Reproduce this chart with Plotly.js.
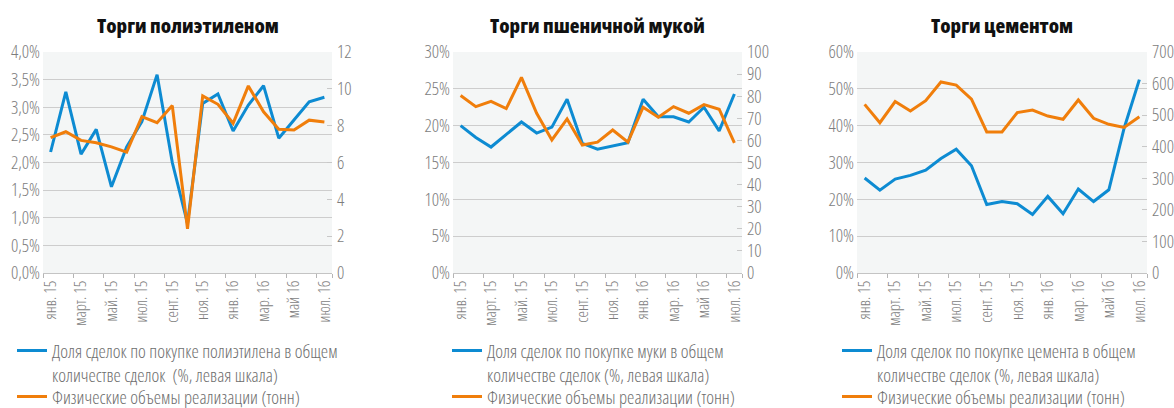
<!DOCTYPE html>
<html>
<head>
<meta charset="utf-8">
<script src="https://cdn.plot.ly/plotly-3.0.1.min.js"></script>
<style>
html,body{margin:0;padding:0;background:#fff;}
#chart{width:1174px;height:408px;}
text{font-stretch:75% !important;}
</style>
</head>
<body>
<div id="chart"></div>
<script>
const months = ['янв. 15','фев. 15','март. 15','апр. 15','май. 15','июн. 15','июл. 15','авг. 15','сент. 15','окт. 15','ноя. 15','дек. 15','янв. 16','фев. 16','мар. 16','апр. 16','май 16','июн. 16','июл. 16'];

const titles = ['Торги полиэтиленом', 'Торги пшеничной мукой', 'Торги цементом'];
const shareNames = [
  'Доля сделок по покупке полиэтилена в общем<br>количестве сделок  (%, левая шкала)',
  'Доля сделок по покупке муки в общем<br>количестве сделок (%, левая шкала)',
  'Доля сделок по покупке цемента в общем<br>количестве сделок (%, левая шкала)'
];
const volumeName = 'Физические объемы реализации (тонн)';

// Polyethylene
const peShare  = [2.19, 3.28, 2.15, 2.60, 1.56, 2.28, 2.74, 3.59, 2.00, 0.90, 3.07, 3.24, 2.57, 3.04, 3.39, 2.44, 2.77, 3.10, 3.18];
const peVolume = [7.35, 7.67, 7.20, 7.07, 6.85, 6.56, 8.49, 8.16, 9.09, 2.40, 9.62, 9.16, 8.13, 10.16, 8.75, 7.80, 7.76, 8.30, 8.20];
// Wheat flour
const flShare  = [20.0, 18.4, 17.1, 18.8, 20.5, 19.0, 19.8, 23.6, 17.6, 16.8, 17.3, 17.7, 23.6, 21.2, 21.2, 20.5, 22.5, 19.3, 24.3];
const flVolume = [80.3, 75.3, 77.7, 74.4, 88.5, 72.3, 60.2, 69.7, 57.9, 59.2, 64.7, 59.2, 75.0, 70.5, 75.3, 72.3, 76.2, 74.1, 58.9];
// Cement
const ceShare  = [25.8, 22.5, 25.5, 26.5, 27.9, 31.1, 33.6, 29.1, 18.6, 19.4, 18.8, 15.9, 20.8, 16.1, 22.8, 19.4, 22.6, 39.3, 52.5];
const ceVolume = [534, 476, 543, 513, 546, 605, 595, 551, 447, 447, 508, 516, 497, 487, 548, 490, 471, 461, 495];

const leftRanges  = [[0, 4], [0, 30], [0, 60]];
const leftDticks  = [0.5, 5, 10];
const leftFormats = ['.1f', '.0f', '.0f'];
const rightRanges = [[0, 12], [0, 100], [0, 700]];
const rightDticks = [2, 10, 100];

const shareSeries  = [peShare, flShare, ceShare];
const volumeSeries = [peVolume, flVolume, ceVolume];

const BLUE = '#0d8bd2';
const ORANGE = '#f07e0b';
const FAMILY = '"Open Sans", "DejaVu Sans", sans-serif';
const TICKC = '#7d7d7d';
const GRID = '#cdcdcd';

// size fonts (condensed Open Sans) so that texts take the width they take in the reference
const ctx = document.createElement('canvas').getContext('2d');
function fit(text, weight, target) {
  ctx.font = weight + ' 20px "Open Sans"';
  ctx.fontStretch = 'condensed';
  const w = ctx.measureText(text).width;
  return Math.round(200 * target / w) / 10;
}
const titleSize  = Math.min(26, Math.max(16, fit(titles[0], 800, 182)));
const legendSize = Math.min(19, Math.max(13, fit('Доля сделок по покупке полиэтилена в общем', 300, 286)));
const ytickSize  = Math.min(20, Math.max(13, fit('4,0%', 300, 29)));
const xtickSize  = Math.min(17, Math.max(12, fit('янв. 15', 300, 39)));

const W = 1174, H = 408;
const xDomains = [[43/W, 332/W], [453/W, 742/W], [857/W, 1147/W]];
const yDomain = [1 - 273/H, 1 - 52/H];
const legendX = [12/W, 447/W, 837/W];

const data = [];
const layout = {
  width: W, height: H,
  margin: {l: 0, r: 0, t: 0, b: 0, autoexpand: false},
  paper_bgcolor: '#ffffff',
  separators: ', ',
  font: {family: FAMILY, color: TICKC},
  showlegend: true,
  annotations: [],
  shapes: []
};

const tickMonths = months.filter((m, i) => i % 2 === 0);

function legendBox(x, yTop) {
  return {
    x: x, y: 1 - yTop/H, xanchor: 'left', yanchor: 'top',
    bgcolor: 'rgba(0,0,0,0)', borderwidth: 0,
    font: {family: FAMILY, size: legendSize, color: '#6e6e6e', weight: 300},
    valign: 'top', traceorder: 'normal', tracegroupgap: 0, itemwidth: 30
  };
}

for (let k = 0; k < 3; k++) {
  const n = k + 1;
  const xa = 'x' + (k === 0 ? '' : n);
  const yl = 'y' + (k === 0 ? '' : (2*k + 1));
  const yr = 'y' + (2*k + 2);
  const lgA = 'legend' + (k === 0 ? '' : n);
  const lgB = 'legend' + (k + 4);

  data.push({
    x: months, y: shareSeries[k], type: 'scatter', mode: 'lines',
    name: shareNames[k], xaxis: xa, yaxis: yl, legend: lgA,
    line: {color: BLUE, width: 3}
  });
  data.push({
    x: months, y: volumeSeries[k], type: 'scatter', mode: 'lines',
    name: volumeName, xaxis: xa, yaxis: yr, legend: lgB,
    line: {color: ORANGE, width: 3}
  });

  const xKey = 'xaxis' + (k === 0 ? '' : n);
  const ylKey = 'yaxis' + (k === 0 ? '' : (2*k + 1));
  const yrKey = 'yaxis' + (2*k + 2);

  layout[xKey] = {
    domain: xDomains[k], anchor: yl, type: 'category',
    categoryorder: 'array', categoryarray: months,
    range: [-0.5, months.length - 0.5],
    tickmode: 'array', tickvals: tickMonths, ticktext: tickMonths,
    tickangle: -90, tickson: 'boundaries',
    ticks: 'outside', ticklen: 4, tickcolor: '#b5b5b5', tickwidth: 1,
    showline: true, linecolor: '#c4c4c4', linewidth: 1,
    showgrid: false, zeroline: false, automargin: false,
    tickfont: {family: FAMILY, size: xtickSize, color: TICKC, weight: 300},
    fixedrange: true
  };
  layout[ylKey] = {
    domain: yDomain, anchor: xa, range: leftRanges[k], dtick: leftDticks[k], tick0: 0,
    tickformat: leftFormats[k], ticksuffix: '%',
    showgrid: true, gridcolor: GRID, gridwidth: 1,
    zeroline: false, showline: false, ticks: '', automargin: false,
    tickfont: {family: FAMILY, size: ytickSize, color: TICKC, weight: 300},
    ticklabelstandoff: 2,
    fixedrange: true
  };
  layout[yrKey] = {
    overlaying: yl, side: 'right', anchor: xa,
    range: rightRanges[k], dtick: rightDticks[k], tick0: 0,
    showgrid: false, zeroline: false, showline: false, automargin: false,
    ticks: 'inside', ticklen: 5, tickcolor: '#c8c8c8',
    tickfont: {family: FAMILY, size: ytickSize, color: TICKC, weight: 300},
    ticklabelstandoff: 4,
    fixedrange: true
  };

  layout.shapes.push({
    type: 'rect', xref: xa + ' domain', yref: yl + ' domain',
    x0: 0, x1: 1, y0: 0, y1: 1, fillcolor: '#f4f6f6', line: {width: 0}, layer: 'below'
  });

  layout.annotations.push({
    text: titles[k], xref: xa + ' domain', yref: 'paper',
    x: 0.5, y: 1 - 25/H, xanchor: 'center', yanchor: 'middle', showarrow: false,
    font: {family: FAMILY, size: titleSize, color: '#111111', weight: 800}
  });

  layout[lgA] = legendBox(legendX[k], 332);
  layout[lgB] = legendBox(legendX[k], 378);
}

Plotly.newPlot('chart', data, layout, {displayModeBar: false, staticPlot: true});
</script>
</body>
</html>
